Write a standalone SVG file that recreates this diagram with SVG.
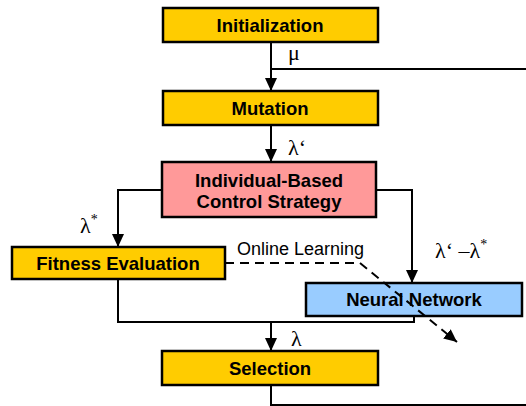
<svg xmlns="http://www.w3.org/2000/svg" width="526" height="406" viewBox="0 0 526 406">
<defs>
<marker id="ah" markerUnits="userSpaceOnUse" markerWidth="14" markerHeight="14" viewBox="0 0 14 14" refX="13" refY="7" orient="auto">
<path d="M0,1 L13,7 L0,13 Z" fill="#000"/>
</marker>
<style>
.box{stroke:#000;stroke-width:2.5}
.y{fill:#FFCC00}
.p{fill:#FF9999}
.b{fill:#99CCFF}
.t{font-family:"Liberation Sans",Arial,sans-serif;font-weight:bold;font-size:18.5px;text-anchor:middle;fill:#000}
.r{font-family:"Liberation Sans",Arial,sans-serif;font-size:18px;fill:#000}
.g{font-family:"Liberation Serif","Times New Roman",serif;font-size:22px;fill:#000}
.c{fill:none;stroke:#000;stroke-width:2}
.a{marker-end:url(#ah)}
.d{stroke-dasharray:9,6}
</style>
</defs>
<rect width="526" height="406" fill="#fff"/>
<g id="initialization"><rect class="box y" x="163" y="8" width="215" height="34"/><text class="t" x="270" y="31.5">Initialization</text></g>
<g id="mutation"><rect class="box y" x="163" y="91" width="215" height="34"/><text class="t" x="270" y="114.5">Mutation</text></g>
<g id="strategy"><rect class="box p" x="162" y="162" width="214" height="55"/><text class="t" x="269" y="187">Individual-Based</text><text class="t" x="269" y="208">Control Strategy</text></g>
<g id="fitness"><rect class="box y" x="12" y="247" width="213" height="32"/><text class="t" x="118" y="270">Fitness Evaluation</text></g>
<g id="neural"><rect class="box b" x="306" y="283" width="216" height="33"/><text class="t" x="414" y="306">Neural Network</text></g>
<g id="selection"><rect class="box y" x="162" y="351" width="216" height="34"/><text class="t" x="270" y="375">Selection</text></g>
<g id="connectors">
<path class="c a" d="M271,42 V91"/>
<path class="c" d="M271,69 H526"/>
<path class="c a" d="M271,125 V162"/>
<path class="c a" d="M162,190 H118 V247"/>
<path class="c a" d="M376,190 H412 V283"/>
<path class="c" d="M118,279 V322 H414 V316"/>
<path class="c a" d="M271,322 V351"/>
<path class="c" d="M271,385 V405 H526"/>
<path class="c a d" d="M225,263 H360 L457,342"/>
</g>
<g id="labels">
<text class="g" x="288" y="60">μ</text>
<text class="g" x="288" y="155">λ‘</text>
<text class="g" x="80" y="233">λ<tspan font-size="14" dy="-9">*</tspan></text>
<text class="r" x="237" y="255">Online Learning</text>
<text class="g" x="435" y="258">λ‘ –λ<tspan font-size="14" dy="-9">*</tspan></text>
<text class="g" x="291" y="346">λ</text>
</g>
</svg>
